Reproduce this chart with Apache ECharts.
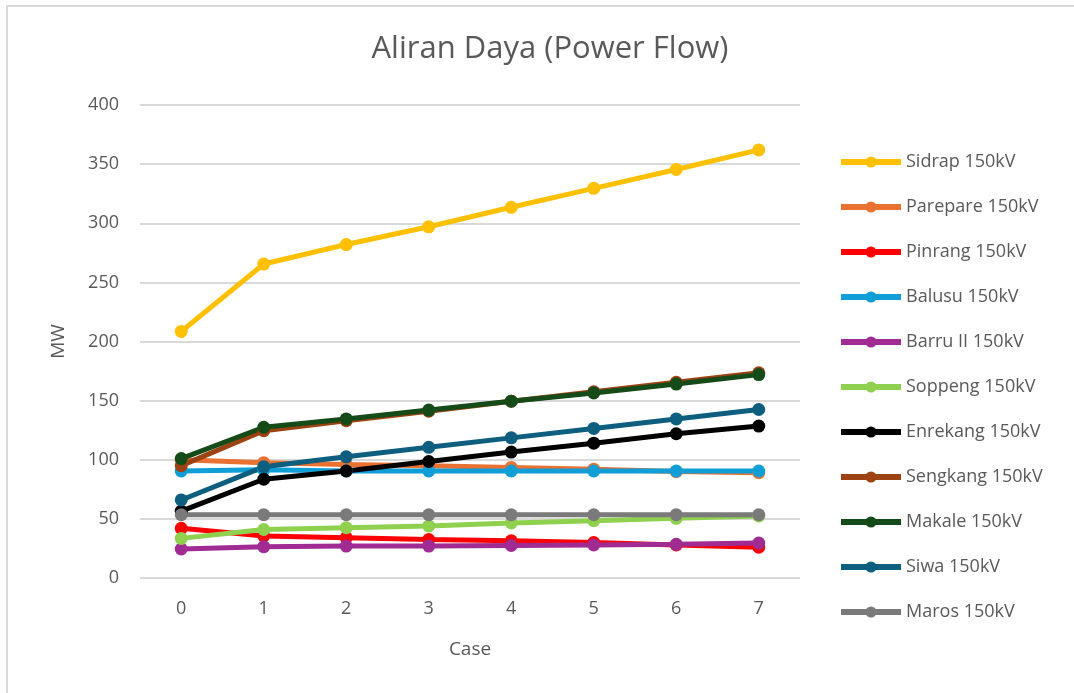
<!DOCTYPE html>
<html>
<head>
<meta charset="utf-8">
<script src="https://cdn.jsdelivr.net/npm/echarts@6/dist/echarts.min.js"></script>
<style>
html,body{margin:0;padding:0;background:#fff;}
#chart{width:1074px;height:693px;}
</style>
</head>
<body>
<div id="chart"></div>
<script>
var cases = ['0','1','2','3','4','5','6','7'];
var seriesNames = ['Sidrap 150kV','Parepare 150kV','Pinrang 150kV','Balusu 150kV','Barru II 150kV','Soppeng 150kV','Enrekang 150kV','Sengkang 150kV','Makale 150kV','Siwa 150kV','Maros 150kV'];
var sidrap   = [208.5, 265.5, 282, 297, 313.5, 329.5, 345.5, 362];
var parepare = [100, 97.5, 96, 95, 93.5, 92, 90, 89];
var pinrang  = [42, 35.5, 34, 32.5, 31.5, 30, 28, 26];
var balusu   = [90.5, 91.5, 90.5, 90.5, 90.5, 90.5, 90.5, 90.5];
var barru    = [24.5, 26.5, 27, 27, 27.5, 28, 28.5, 29.5];
var soppeng  = [33.5, 41, 42.5, 44, 46.5, 48.5, 50.5, 52.5];
var enrekang = [56.5, 83.5, 90.5, 98.5, 106.5, 114, 122, 128.5];
var sengkang = [95, 124.5, 133, 141, 149.5, 157.5, 165.5, 173.5];
var makale   = [101, 127.5, 134.5, 142, 149.5, 156.5, 164, 172];
var siwa     = [66, 94, 102.5, 110.5, 118.5, 126.5, 134.5, 142.5];
var maros    = [53.5, 53.5, 53.5, 53.5, 53.5, 53.5, 53.5, 53.5];
var yTicks = [0, 50, 100, 150, 200, 250, 300, 350, 400];

var values = [sidrap, parepare, pinrang, balusu, barru, soppeng, enrekang, sengkang, makale, siwa, maros];
var colors = ['#FFC000','#E97132','#FF0000','#0F9ED5','#A02B93','#8FD14F','#000000','#9C4213','#154A19','#0E5E80','#7A7A7A'];
var FONT = '"Open Sans", "Liberation Sans", sans-serif';
var TXT = '#595959';

var chart = echarts.init(document.getElementById('chart'), null, {renderer:'canvas'});
var series = seriesNames.map(function(n, i){
  return {
    name: n, type: 'line', data: values[i],
    symbol: 'circle', symbolSize: 13,
    lineStyle: {width: 5, color: colors[i]},
    itemStyle: {color: colors[i]},
    emphasis: {disabled: true},
    animation: false
  };
});
chart.setOption({
  animation: false,
  backgroundColor: '#fff',
  color: colors,
  title: {
    text: 'Aliran Daya (Power Flow)', left: 545, top: 29, textAlign: 'center',
    textStyle: {fontFamily: FONT, fontSize: 31, fontWeight: 'normal', color: TXT}
  },
  graphic: [{
    type: 'rect', silent: true, z: -1,
    shape: {x: 7, y: 6, width: 1200, height: 800},
    style: {fill: 'none', stroke: '#D9D9D9', lineWidth: 2}
  }],
  legend: {
    orient: 'vertical', left: 833, top: 147,
    itemWidth: 60, itemHeight: 14, itemGap: 25,
    data: seriesNames,
    textStyle: {fontFamily: FONT, fontSize: 18, color: TXT, lineHeight: 20},
    lineStyle: {width: 6},
    selectedMode: false
  },
  grid: {left: 140, right: 274, top: 105, bottom: 115, containLabel: false},
  xAxis: {
    type: 'category', data: cases, boundaryGap: true,
    name: 'Case', nameLocation: 'middle', nameGap: 62,
    nameTextStyle: {fontFamily: FONT, fontSize: 19, color: TXT},
    axisLine: {show: false}, axisTick: {show: false},
    axisLabel: {fontFamily: FONT, fontSize: 18, color: TXT, margin: 22}
  },
  yAxis: {
    type: 'value', min: yTicks[0], max: yTicks[yTicks.length-1], interval: 50,
    name: 'MW', nameLocation: 'middle', nameGap: 72, nameRotate: 90,
    nameTextStyle: {fontFamily: FONT, fontSize: 19, color: TXT},
    axisLine: {show: false}, axisTick: {show: false},
    axisLabel: {fontFamily: FONT, fontSize: 18, color: TXT, margin: 21},
    splitLine: {lineStyle: {color: '#D9D9D9', width: 2}}
  },
  series: series
});
</script>
</body>
</html>
